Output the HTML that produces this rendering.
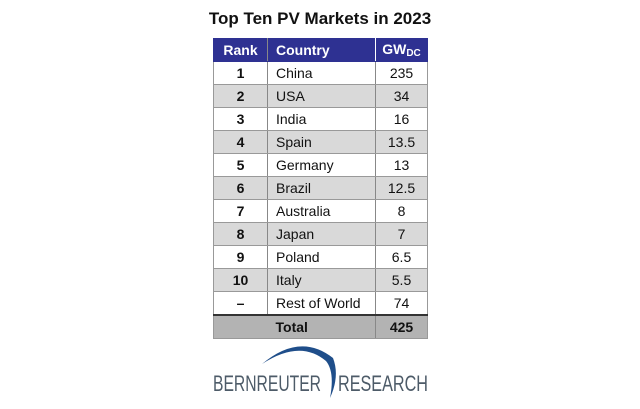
<!DOCTYPE html>
<html><head><meta charset="utf-8"><style>
body{margin:0;width:640px;height:409px;background:#fff;font-family:"Liberation Sans",sans-serif;position:relative;overflow:hidden}
#title{position:absolute;top:9px;left:0;width:640px;text-align:center;font-weight:bold;font-size:17px;color:#111}
table{position:absolute;left:213px;top:38px;border-collapse:collapse;font-size:14px;color:#111;border:1px solid #999}
td,th{height:22px;padding:0;border:1px solid #999;border-left:none;border-right:none}
th{background:#2e3192;color:#fff;font-weight:bold;height:22px;border:1px solid #2e3192}
.r{width:53px;text-align:center;font-weight:bold;border-right:1px solid #888}
.c{width:99px;text-align:left;padding-left:8px;border-right:1px solid #888}
.g{width:51px;text-align:center}
tr.alt td{background:#d9d9d9}
tr.tot td{background:#b3b3b3;font-weight:bold;border-top:2px solid #333}
</style></head><body>
<div id="title">Top Ten PV Markets in 2023</div>
<table>
<tr><th class="r">Rank</th><th class="c" style="border-right:1px solid #fff">Country</th><th class="g">GW<sub style="font-size:10px;vertical-align:-2px">DC</sub></th></tr>
<tr><td class="r">1</td><td class="c">China</td><td class="g">235</td></tr>
<tr class="alt"><td class="r">2</td><td class="c">USA</td><td class="g">34</td></tr>
<tr><td class="r">3</td><td class="c">India</td><td class="g">16</td></tr>
<tr class="alt"><td class="r">4</td><td class="c">Spain</td><td class="g">13.5</td></tr>
<tr><td class="r">5</td><td class="c">Germany</td><td class="g">13</td></tr>
<tr class="alt"><td class="r">6</td><td class="c">Brazil</td><td class="g">12.5</td></tr>
<tr><td class="r">7</td><td class="c">Australia</td><td class="g">8</td></tr>
<tr class="alt"><td class="r">8</td><td class="c">Japan</td><td class="g">7</td></tr>
<tr><td class="r">9</td><td class="c">Poland</td><td class="g">6.5</td></tr>
<tr class="alt"><td class="r">10</td><td class="c">Italy</td><td class="g">5.5</td></tr>
<tr><td class="r">–</td><td class="c">Rest of World</td><td class="g">74</td></tr>
<tr class="tot"><td class="r" style="border-right:none"></td><td class="c">Total</td><td class="g">425</td></tr>
</table>
<svg width="640" height="409" style="position:absolute;left:0;top:0">
<path d="M262,364 Q300,332 333,358 Q340,376 330,398 Q335,372 326,361 Q300,339 262,364 Z" fill="#1f4e8a"/>
<text x="213" y="391" font-family="Liberation Sans Narrow, Liberation Sans, sans-serif" font-size="22" fill="#4d5b68" textLength="108" lengthAdjust="spacingAndGlyphs">BERNREUTER</text>
<text x="338" y="391" font-family="Liberation Sans Narrow, Liberation Sans, sans-serif" font-size="22" fill="#4d5b68" textLength="90" lengthAdjust="spacingAndGlyphs">RESEARCH</text>
</svg>
</body></html>
